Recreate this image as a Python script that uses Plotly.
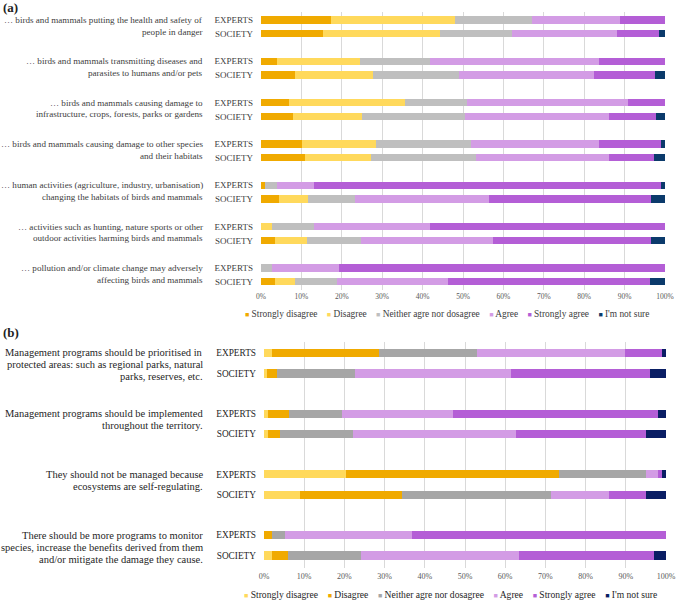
import plotly.graph_objects as go

# ---------------- data ----------------
RESPONSES = ["Strongly disagree", "Disagree", "Neither agre nor dosagree",
             "Agree", "Strongly agree", "I'm not sure"]
GROUPS = ["EXPERTS", "SOCIETY"]

items_a = [
    "… birds and mammals putting the health and safety of<br>people in danger",
    "… birds and mammals transmitting diseases and<br>parasites to humans and/or pets",
    "… birds and mammals causing damage to<br>infrastructure, crops, forests, parks or gardens",
    "… birds and mammals causing damage to other species<br>and their habitats",
    "… human activities (agriculture, industry, urbanisation)<br>changing the habitats of birds and mammals",
    "… activities such as hunting, nature sports or other<br>outdoor activities harming birds and mammals",
    "… pollution and/or climate change may adversely<br>affecting birds and mammals",
]
# order: item1 EXPERTS, item1 SOCIETY, item2 EXPERTS, ...
a_strongly_disagree = [17.3, 15.3, 4.0, 8.5, 7.0, 8.0, 10.1, 11.0, 0.9, 4.4, 0.0, 3.5, 0.0, 3.5]
a_disagree          = [30.6, 28.9, 20.4, 19.3, 28.7, 17.0, 18.3, 16.3, 0.0, 7.2, 2.8, 7.9, 0.0, 4.8]
a_neither           = [19.3, 17.9, 17.4, 21.1, 15.3, 25.4, 23.6, 25.9, 3.0, 11.7, 10.3, 13.4, 2.8, 10.4]
a_agree             = [21.6, 26.0, 41.8, 33.5, 39.9, 35.7, 31.6, 32.9, 9.1, 33.1, 28.7, 32.6, 16.4, 27.6]
a_strongly_agree    = [11.2, 10.4, 16.4, 15.1, 9.1, 11.6, 15.4, 11.1, 86.0, 40.2, 58.2, 39.2, 80.8, 49.9]
a_not_sure          = [0.0, 1.5, 0.0, 2.5, 0.0, 2.3, 1.0, 2.8, 1.0, 3.4, 0.0, 3.4, 0.0, 3.8]

items_b = [
    "Management programs should be prioritised in<br>protected areas: such as regional parks, natural<br>parks, reserves, etc.",
    "Management programs should be implemented<br>throughout the territory.",
    "They should not be managed because<br>ecosystems are self-regulating.",
    "There should be more programs to monitor<br>species, increase the benefits derived from them<br>and/or mitigate the damage they cause.",
]
b_strongly_disagree = [2.0, 0.7, 1.0, 1.0, 20.4, 9.0, 0.0, 2.0]
b_disagree          = [26.6, 2.5, 5.2, 3.0, 53.1, 25.4, 2.0, 4.0]
b_neither           = [24.5, 19.5, 13.2, 18.2, 21.6, 37.1, 3.2, 18.1]
b_agree             = [36.8, 38.8, 27.7, 40.5, 3.0, 14.4, 31.7, 39.4]
b_strongly_agree    = [9.2, 34.4, 51.0, 32.4, 1.0, 9.0, 63.1, 33.4]
b_not_sure          = [0.9, 4.1, 1.9, 4.9, 0.9, 5.1, 0.0, 3.1]

x_ticks = list(range(0, 101, 10))
x_tick_labels = [f"{t}%" for t in x_ticks]

# ---------------- style ----------------
COLORS_A = ["#F0AA00", "#FFD95C", "#BFBFBF", "#D39CE5", "#B45ED6", "#0B3A6B"]
COLORS_B = ["#FFD95C", "#F0AA00", "#A6A6A6", "#D39CE5", "#B45ED6", "#0A1E64"]
SERIF = "Liberation Serif"
W, H = 676, 600

def fx(p):
    return p / W

def fy(p):
    return 1 - p / H

# panel geometry (pixel-based y units)
A_TOP, A_BOT, A_FIRST, A_PITCH, A_PAIR = 12, 290, 20, 41.33, 13.8
B_TOP, B_BOT, B_FIRST, B_PITCH, B_PAIR = 342, 568, 353, 60.67, 20.5

ya = [A_FIRST + A_PITCH * (k // 2) + A_PAIR * (k % 2) for k in range(2 * len(items_a))]
yb = [B_FIRST + B_PITCH * (k // 2) + B_PAIR * (k % 2) for k in range(2 * len(items_b))]

fig = go.Figure()

series_a = [a_strongly_disagree, a_disagree, a_neither, a_agree, a_strongly_agree, a_not_sure]
series_b = [b_strongly_disagree, b_disagree, b_neither, b_agree, b_strongly_agree, b_not_sure]

for name, col, vals in zip(RESPONSES, COLORS_A, series_a):
    fig.add_trace(go.Bar(x=vals, y=ya, orientation="h", name=name, marker_color=col,
                         marker_line_width=0, width=7.3, xaxis="x", yaxis="y",
                         showlegend=False))
for name, col, vals in zip(RESPONSES, COLORS_B, series_b):
    fig.add_trace(go.Bar(x=vals, y=yb, orientation="h", name=name, marker_color=col,
                         marker_line_width=0, width=8.2, xaxis="x2", yaxis="y2",
                         showlegend=False))

xcommon = dict(range=[0, 100], tickmode="array", tickvals=x_ticks, ticktext=x_tick_labels,
               showgrid=True, gridcolor="#D9D9D9", gridwidth=1, zeroline=False,
               showline=False, ticks="", fixedrange=True, automargin=False)
ycommon = dict(showgrid=False, zeroline=False, ticks="", ticklabelstandoff=7,
               fixedrange=True, automargin=False)
fig.update_layout(
    width=W, height=H, autosize=False,
    margin=dict(l=0, r=0, t=0, b=0, autoexpand=False),
    paper_bgcolor="white", plot_bgcolor="white",
    barmode="stack", bargap=0,
    showlegend=False,
    xaxis=dict(domain=[fx(261), fx(665)], anchor="y",
               tickfont=dict(family=SERIF, size=7.5, color="#595959"), **xcommon),
    yaxis=dict(domain=[fy(A_BOT), fy(A_TOP)], anchor="x", range=[A_BOT, A_TOP],
               tickvals=ya, ticktext=GROUPS * len(items_a),
               tickfont=dict(family=SERIF, size=9, color="#404040"), **ycommon),
    xaxis2=dict(domain=[fx(264), fx(666)], anchor="y2", ticklabelstandoff=2,
                tickfont=dict(family=SERIF, size=8, color="#595959"), **xcommon),
    yaxis2=dict(domain=[fy(B_BOT), fy(B_TOP)], anchor="x2", range=[B_BOT, B_TOP],
                tickvals=yb, ticktext=GROUPS * len(items_b),
                tickfont=dict(family=SERIF, size=9.3, color="#262626"), **ycommon),
)

annotations = []
# panel letters
annotations.append(dict(text="<b>(a)</b>", x=fx(1), y=fy(7), xref="paper", yref="paper",
                        xanchor="left", yanchor="middle", showarrow=False,
                        font=dict(family=SERIF, size=13, color="#222")))
annotations.append(dict(text="<b>(b)</b>", x=fx(1), y=fy(332), xref="paper", yref="paper",
                        xanchor="left", yanchor="middle", showarrow=False,
                        font=dict(family=SERIF, size=13, color="#222")))

# item labels: one annotation per wrapped line, first line level with the EXPERTS bar
def add_item_labels(items, ypos, yref, size, spacing, color):
    for i, txt in enumerate(items):
        for k, line in enumerate(txt.split("<br>")):
            annotations.append(dict(text=line, x=fx(205), xref="paper", y=ypos[2 * i],
                                    yref=yref, xanchor="right", yanchor="middle",
                                    align="right", yshift=-k * spacing, showarrow=False,
                                    font=dict(family=SERIF, size=size, color=color)))

add_item_labels(items_a, ya, "y", 9.1, 11.7, "#404040")
add_item_labels(items_b, yb, "y2", 10.5, 12.0, "#262626")

# legends (built from the response names and colours)
def legend_text(colors):
    parts = []
    for name, col in zip(RESPONSES, colors):
        parts.append(f"<span style='color:{col};font-size:7px'>■</span> {name}")
    return "&nbsp;&nbsp;&nbsp;&nbsp;".join(parts)

annotations.append(dict(text=legend_text(COLORS_A), x=fx(447), y=fy(314), xref="paper",
                        yref="paper", xanchor="center", yanchor="middle", showarrow=False,
                        font=dict(family=SERIF, size=9.4, color="#404040")))
annotations.append(dict(text=legend_text(COLORS_B), x=fx(450), y=fy(594), xref="paper",
                        yref="paper", xanchor="center", yanchor="middle", showarrow=False,
                        font=dict(family=SERIF, size=9.6, color="#262626")))
fig.update_layout(annotations=annotations)

fig.write_html("out.html")
